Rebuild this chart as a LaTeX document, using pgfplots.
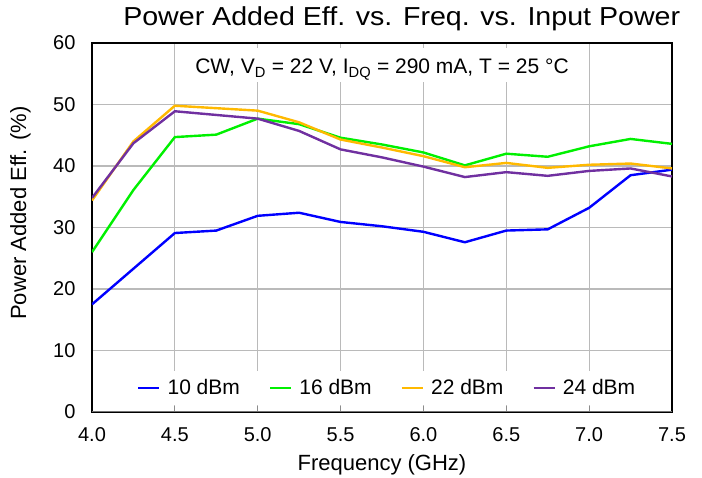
\documentclass[border=0pt]{standalone}
\usepackage{fontspec}
\setmainfont{Liberation Sans}
\newfontfamily\titlefont[FakeStretch=1.1]{Liberation Sans}
\usepackage{pgfplots}
\pgfplotsset{compat=1.18}
\definecolor{c10}{RGB}{0,0,255}
\definecolor{c16}{RGB}{0,240,0}
\definecolor{c22}{RGB}{255,185,0}
\definecolor{c24}{RGB}{112,48,160}
\pgfplotstableread{
x     p10   p16   p22   p24
4.00  17.5  26.0  34.4  34.8
4.25  23.3  36.1  44.0  43.7
4.50  29.1  44.7  49.8  48.9
4.75  29.5  45.1  49.4  48.3
5.00  31.9  47.7  49.0  47.7
5.25  32.4  46.8  47.1  45.7
5.50  30.9  44.6  44.3  42.7
5.75  30.2  43.5  43.0  41.4
6.00  29.3  42.2  41.6  39.9
6.25  27.6  40.1  39.8  38.2
6.50  29.5  42.0  40.5  39.0
6.75  29.7  41.5  39.7  38.4
7.00  33.2  43.2  40.2  39.2
7.25  38.5  44.4  40.4  39.6
7.50  39.4  43.6  39.6  38.3
}\pae
\begin{document}
\begin{tikzpicture}
\path[use as bounding box] (-92pt,-66pt) rectangle (610pt,412pt);
\begin{axis}[
  at={(0pt,0pt)}, anchor=south west,
  scale only axis, width=580pt, height=369pt,
  xmin=4, xmax=7.5, ymin=0, ymax=60,
  xtick={4,4.5,5,5.5,6,6.5,7,7.5}, ytick={0,10,20,30,40,50,60},
  grid=major, major grid style={color=black!27, line width=1.2pt},
  axis line style={black, line width=1.4pt},
  tick align=inside, xtick pos=bottom, ytick pos=left,
  ytick style={draw=none},
  xtick style={color=black!45, line width=1pt},
  major tick length=6pt,
  /pgf/number format/assume math mode=true,
  ticklabel style={font=\fontsize{20}{24}\selectfont},
  xticklabel style={yshift=-12pt, /pgf/number format/.cd, fixed, fixed zerofill, precision=1},
  yticklabel style={xshift=-13pt},
  title={Power Added Eff. vs. Freq. vs. Input Power},
  title style={at={(axis description cs:0.534,1)}, anchor=base, yshift=11.3pt,
    inner sep=0pt, font=\titlefont\fontsize{26}{30}\selectfont},
  xlabel={Frequency (GHz)},
  ylabel={Power Added Eff. (\%)},
  label style={font=\fontsize{22}{26}\selectfont},
  xlabel style={at={(axis description cs:0.5,0)}, anchor=base, yshift=-58.7pt},
  ylabel style={at={(axis description cs:0,0.539)}, anchor=center, yshift=71.5pt},
  legend columns=4,
  legend style={at={(rel axis cs:0.509,0.065)}, anchor=center, draw=none, fill=white,
    font=\fontsize{21}{24}\selectfont, inner ysep=7pt, inner xsep=8pt,
    /tikz/every odd column/.append style={column sep=5pt},
    /tikz/every even column/.append style={column sep=27pt}},
  legend image code/.code={\draw[#1, line width=2.4pt] (0pt,0pt) -- (21pt,0pt);},
  every axis plot/.append style={line width=2.4pt, mark=none},
]
\addplot[c10] table[x=x, y=p10] {\pae};
\addlegendentry{10 dBm}
\addplot[c16] table[x=x, y=p16] {\pae};
\addlegendentry{16 dBm}
\addplot[c22] table[x=x, y=p22] {\pae};
\addlegendentry{22 dBm}
\addplot[c24] table[x=x, y=p24] {\pae};
\addlegendentry{24 dBm}
\draw[black!55, line width=2.4pt] (rel axis cs:0,0) -- (rel axis cs:1,0);
\node[fill=white, inner sep=0pt, inner xsep=6pt, text height=26pt, text depth=8pt,
      anchor=base, font=\fontsize{21}{24}\selectfont]
  at (rel axis cs:0.5,1) [yshift=-31pt]
  {CW, V\textsubscript{D} = 22 V, I\textsubscript{DQ} = 290 mA, T = 25 °C};
\end{axis}
\end{tikzpicture}
\end{document}
